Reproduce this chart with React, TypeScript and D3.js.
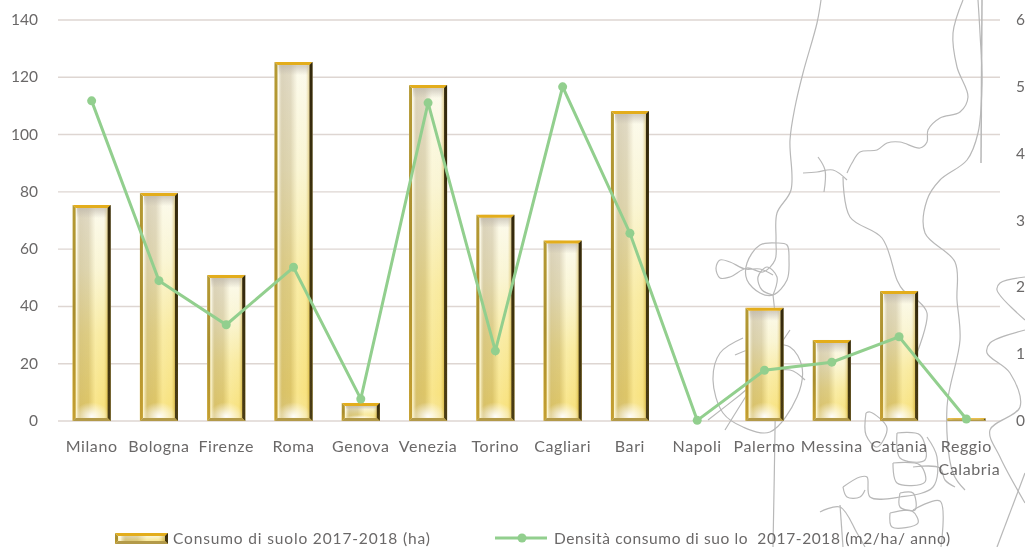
import React from "react";
import * as d3 from "d3";

const cities = ["Milano","Bologna","Firenze","Roma","Genova","Venezia","Torino","Cagliari","Bari","Napoli","Palermo","Messina","Catania","Reggio Calabria"];
const consumo = [75.4,79.6,51,125.3,6.3,117.3,72,63,108.2,0,39.5,28.3,45.4,1];
const densita = [4.79,2.1,1.44,2.3,0.33,4.76,1.05,5.0,2.81,0.01,0.76,0.88,1.26,0.03];
const leftTicks = [0,20,40,60,80,100,120,140];
const rightTicks = [0,1,2,3,4,5,6];
const seriesBar = "Consumo di suolo 2017-2018 (ha)";
const seriesLine = "Densità consumo di suo lo  2017-2018 (m2/ha/ anno)";

type P = [number, number];
const mapCurves: P[][] = [
  [[821,0],[817,23],[803,73],[795,107],[790,140],[791,190],[777,213],[776,240],[775,260],[763,272],[747,268],[730,277],[720,278],[716,268],[720,260],[730,262],[745,269],[760,269],[773,275]],
  [[777,243],[760,245],[747,263],[747,280],[760,293],[773,295],[787,280],[789,260],[787,245],[777,243]],
  [[773,295],[777,277],[767,267],[758,277],[762,290],[773,295]],
  [[773,295],[776,330],[775,430],[773,547]],
  [[978,0],[980,33],[982,83],[978,133],[967,160],[940,180],[927,200],[925,233],[955,262],[957,300],[960,340],[947,407],[953,473],[965,490]],
  [[963,0],[953,33],[957,67],[968,97],[960,112],[940,118],[928,130],[927,142],[920,148],[900,142],[887,143],[877,150],[860,152],[852,163],[847,173]],
  [[843,177],[850,217],[882,238],[897,280],[903,290],[917,300],[927,313],[917,353]],
  [[803,173],[817,172],[833,170],[847,180]],
  [[818,157],[825,170],[824,192]],
  [[743,338],[720,353],[713,380],[723,413],[743,427],[770,432],[797,397],[802,367],[790,347],[765,345],[735,355]],
  [[708,420],[740,395],[765,375],[790,370],[805,380]],
  [[725,430],[750,390],[790,330]],
  [[1025,277],[1000,283],[997,290],[1025,320]],
  [[1025,330],[990,343],[987,353],[1010,373],[1020,407],[990,430],[1000,457],[1025,503]],
  [[1025,473],[997,547]],
  [[866,413],[870,412],[887,428],[877,447],[866,435],[866,413]],
  [[897,433],[920,435],[925,460],[900,458],[897,433]],
  [[893,463],[920,465],[925,482],[897,483],[893,463]],
  [[843,487],[860,477],[867,477],[870,497],[900,497],[933,487],[937,457],[927,437]],
  [[843,487],[847,497],[860,497],[865,490]],
  [[900,493],[913,493],[915,510],[900,507],[900,493]],
  [[890,513],[912,511],[918,523],[892,527],[890,513]],
  [[820,512],[840,507],[857,533],[865,547]],
  [[840,505],[843,547]],
  [[913,510],[940,501],[941,547]],
  [[913,467],[940,468],[945,480],[955,487]],
];

const x = d3.scaleBand<string>().domain(cities).range([58, 1000]).paddingInner(0.435).paddingOuter(0.2175);
const yL = d3.scaleLinear().domain([0, 140]).range([421, 20]);
const yR = d3.scaleLinear().domain([0, 6]).range([421, 20]);
const curve = d3.line<P>().x(d => d[0]).y(d => d[1]).curve(d3.curveCatmullRom.alpha(0.5));
const lineGen = d3.line<number>().x((_, i) => x(cities[i])! + x.bandwidth() / 2).y(d => yR(d));

const font = "Lato, 'Open Sans', sans-serif";
const textColor = "#6a6868";

function Bevel({ bx, by, w, h }: { bx: number; by: number; w: number; h: number }) {
  const e = Math.min(3, h / 2);
  const r = bx + w, b = by + h;
  const glowH = Math.min(26, h * 0.35);
  return (
    <g>
      <rect x={bx} y={by} width={w} height={h} fill="url(#face)" />
      <rect x={bx} y={by} width={w} height={h} fill="url(#sheen)" />
      {h > 12 && <rect x={bx + 3} y={b - glowH - 2} width={w - 6} height={glowH} fill="url(#glow)" />}
      {h > 12 && <rect x={bx + 4} y={by + 3} width={w - 8} height={Math.min(10, h * 0.2)} fill="url(#topShade)" />}
      <polygon points={`${bx},${by} ${r},${by} ${r - e},${by + e} ${bx + e},${by + e}`} fill="#e3ad1c" />
      <polygon points={`${bx},${by} ${bx + e},${by + e} ${bx + e},${b - e} ${bx},${b}`} fill="url(#leftEdge)" />
      <polygon points={`${r},${by} ${r - e},${by + e} ${r - e},${b - e} ${r},${b}`} fill="url(#rightEdge)" />
      <polygon points={`${bx},${b} ${bx + e},${b - e} ${r - e},${b - e} ${r},${b}`} fill="#b39a4a" />
    </g>
  );
}

export default function App() {
  const bw = x.bandwidth();
  return (
    <svg width={1025} height={547} style={{ position: "absolute", left: 0, top: 0, display: "block", background: "#fff" }}>
      <defs>
        <linearGradient id="face" x1="0" y1="0" x2="0" y2="1">
          <stop offset="0" stopColor="#fbfaf2" />
          <stop offset="0.3" stopColor="#f8f3cf" />
          <stop offset="0.6" stopColor="#f7e68f" />
          <stop offset="0.92" stopColor="#f6dc68" />
          <stop offset="1" stopColor="#f3dd80" />
        </linearGradient>
        <linearGradient id="sheen" x1="0" y1="0" x2="1" y2="0">
          <stop offset="0" stopColor="#ffffff" stopOpacity="0" />
          <stop offset="0.1" stopColor="#fffdf0" stopOpacity="0.7" />
          <stop offset="0.2" stopColor="#a8966a" stopOpacity="0.38" />
          <stop offset="0.42" stopColor="#a8966a" stopOpacity="0.32" />
          <stop offset="0.6" stopColor="#fffbe0" stopOpacity="0.3" />
          <stop offset="0.82" stopColor="#fffbe0" stopOpacity="0.2" />
          <stop offset="0.9" stopColor="#c9a93f" stopOpacity="0.4" />
          <stop offset="1" stopColor="#8c7428" stopOpacity="0.7" />
        </linearGradient>
        <radialGradient id="glow" cx="0.5" cy="0.9" r="0.55">
          <stop offset="0" stopColor="#ffffff" stopOpacity="0.95" />
          <stop offset="1" stopColor="#ffffff" stopOpacity="0" />
        </radialGradient>
        <linearGradient id="topShade" x1="0" y1="0" x2="0" y2="1">
          <stop offset="0" stopColor="#b9b2a6" stopOpacity="0.65" />
          <stop offset="1" stopColor="#b9b2a6" stopOpacity="0" />
        </linearGradient>
        <linearGradient id="leftEdge" x1="0" y1="0" x2="0" y2="1">
          <stop offset="0" stopColor="#b59a34" />
          <stop offset="0.5" stopColor="#a98d2e" />
          <stop offset="1" stopColor="#c49f30" />
        </linearGradient>
        <linearGradient id="rightEdge" x1="0" y1="0" x2="0" y2="1">
          <stop offset="0" stopColor="#33290f" />
          <stop offset="1" stopColor="#4a3c12" />
        </linearGradient>
        <filter id="soft" x="-5%" y="-5%" width="110%" height="110%">
          <feGaussianBlur stdDeviation="0.5" />
        </filter>
        <filter id="softText" x="-5%" y="-5%" width="110%" height="110%">
          <feGaussianBlur stdDeviation="0.35" />
        </filter>
      </defs>

      <g filter="url(#soft)">
        {leftTicks.map(t => (
          <line key={t} x1={58} x2={1000} y1={yL(t)} y2={yL(t)} stroke="#ded6d2" strokeWidth={1.4} />
        ))}
        <g fill="none" stroke="#b8b8b8" strokeWidth={1.2}>
          {mapCurves.map((c, i) => <path key={i} d={curve(c)!} />)}
          <line x1={982} y1={0} x2={981} y2={163} strokeWidth={1.5} />
        </g>
        {cities.map((c, i) => consumo[i] > 0 && (
          <Bevel key={c} bx={x(c)!} by={yL(consumo[i])} w={bw} h={421 - yL(consumo[i])} />
        ))}
        <path d={lineGen(densita)!} fill="none" stroke="#92cf8e" strokeWidth={3} />
        {densita.map((d, i) => (
          <circle key={i} cx={x(cities[i])! + bw / 2} cy={yR(d)} r={4.5} fill="#92cf8e" />
        ))}
        <Bevel bx={115} by={533} w={53} h={11} />
        <line x1={495} x2={547} y1={538} y2={538} stroke="#92cf8e" strokeWidth={3} />
        <circle cx={522} cy={538} r={4.5} fill="#92cf8e" />
      </g>

      <g fontFamily={font} fontSize={16} fill={textColor} filter="url(#softText)" letterSpacing={0.6}>
        {leftTicks.map(t => (
          <text key={t} x={38} y={yL(t) + 5} textAnchor="end" fontSize={15.5} letterSpacing={0}>{t}</text>
        ))}
        {rightTicks.map(t => (
          <text key={t} x={1016} y={yR(t) + 5} fontSize={15.5} letterSpacing={0}>{t}</text>
        ))}
        {cities.map(c => {
          const cx = x(c)! + bw / 2;
          const parts = c.split(" ");
          return (
            <text key={c} textAnchor="middle">
              {parts.map((p, j) => (
                <tspan key={j} x={cx + (j === 1 ? 3 : 0)} y={452 + j * 23}>{p}</tspan>
              ))}
            </text>
          );
        })}
        <text x={173} y={544} fontSize={15.5} letterSpacing={0.85}>{seriesBar}</text>
        <text x={554} y={544} fontSize={15.5} letterSpacing={0.62} xmlSpace="preserve">{seriesLine}</text>
      </g>
    </svg>
  );
}
